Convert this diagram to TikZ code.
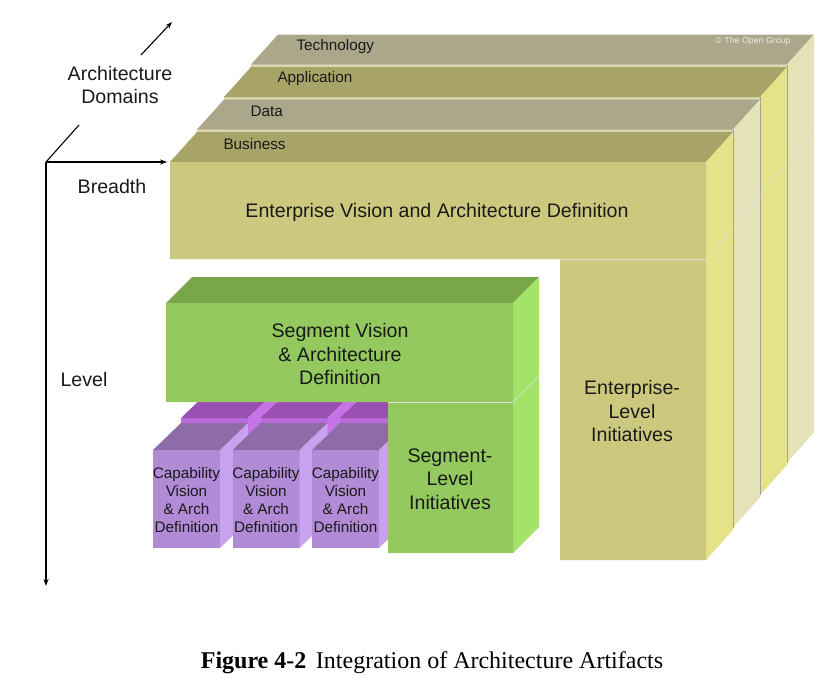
\documentclass[tikz,border=0pt]{standalone}
\usepackage{fontspec}
\setmainfont{Liberation Sans}
\newfontfamily\capfont{Liberation Serif}
\usetikzlibrary{arrows.meta}
\definecolor{olivetop}{HTML}{A8A468}
\definecolor{greytop}{HTML}{ABA78A}
\definecolor{entfront}{HTML}{CCC97E}
\definecolor{yelside}{HTML}{E6E28A}
\definecolor{paleside}{HTML}{E5E2BA}
\definecolor{sliver}{HTML}{D9D7AC}
\definecolor{segfront}{HTML}{93C95E}
\definecolor{segtop}{HTML}{78A648}
\definecolor{segside}{HTML}{A3E36A}
\definecolor{capfront}{HTML}{B28BD6}
\definecolor{captop}{HTML}{8E6CA7}
\definecolor{capside}{HTML}{C9A2EF}
\definecolor{backtop}{HTML}{9A4FB2}
\definecolor{backside}{HTML}{C673E6}
\definecolor{backsliver}{HTML}{BB6ADA}
\definecolor{ink}{HTML}{1A1A1A}
\begin{document}
\begin{tikzpicture}[x=1pt,y=-1pt,
   edge/.style={draw=gray!80,line width=0.7pt},
   seam/.style={draw=black!12,line width=0.5pt},
   axis/.style={line width=1.1pt,-{Stealth[length=7pt,width=5pt]}},
   biglabel/.style={font=\fontsize{19.6}{23.5}\selectfont,align=center,text=ink},
   domlabel/.style={font=\fontsize{15.3}{18}\selectfont,anchor=west,text=ink},
   caplabel/.style={font=\fontsize{15.3}{18.3}\selectfont,align=center,text=ink}]
\useasboundingbox (0,0) rectangle (837,688);

\foreach \i/\top/\side/\lbl/\lx in {3/greytop/paleside/Technology/212,2/olivetop/yelside/Application/220,1/greytop/paleside/Data/220,0/olivetop/yelside/Business/220}{
  \begin{scope}[shift={(27*\i,-32.5*\i)}]
    \fill[sliver] (170,162) -- (706,162) -- (706,560) -- (560,560) -- (560,259) -- (170,259) -- cycle;
    \fill[\top] (170,162) -- (706,162) -- (733,132) -- (197,132) -- cycle;
    \fill[\side] (706,162) -- (733,132) -- (733,530) -- (706,560) -- cycle;
    \draw[seam] (706,259) -- (733,229);
    \ifnum\i>0 \draw[edge] (706,162) -- (706,560); \fi
    \node[domlabel] (\lbl) at (\lx,144) {\lbl};
  \end{scope}
}
\fill[entfront] (170,162) -- (706,162) -- (706,560) -- (560,560) -- (560,259) -- (170,259) -- cycle;
\draw[seam] (560,259) -- (706,259);
\node[font=\fontsize{8.8}{10}\selectfont,text=white!78!greytop] (copyright) at (753,41) {\textcopyright{} The Open Group};
\node[biglabel] (entvision) at (437,212) {Enterprise Vision and Architecture Definition};
\node[biglabel] (entinit) at (632,411) {Enterprise-\\Level\\Initiatives};

\foreach \j in {0,1,2}{
  \begin{scope}[shift={(28+79.5*\j,-32)}]
    \fill[backsliver] (153,450) rectangle (220,548);
    \fill[backtop] (153,450) -- (220,450) -- (248,423) -- (181,423) -- cycle;
    \fill[backside] (220,450) -- (248,423) -- (248,521) -- (220,548) -- cycle;
  \end{scope}
}
\foreach \j in {0,1,2}{
  \begin{scope}[shift={(79.5*\j,0)}]
    \fill[capfront] (153,450) rectangle (220,548);
    \fill[captop] (153,450) -- (220,450) -- (248,423) -- (181,423) -- cycle;
    \fill[capside] (220,450) -- (248,423) -- (248,521) -- (220,548) -- cycle;
  \end{scope}
  \node[caplabel] (capability\j) at (186.5+79.5*\j,500) {Capability\\Vision\\\& Arch\\Definition};
}

\fill[segtop] (166,303) -- (513,303) -- (539,277) -- (192,277) -- cycle;
\fill[segside] (513,303) -- (539,277) -- (539,527) -- (513,553) -- cycle;
\fill[segfront] (166,303) -- (513,303) -- (513,553) -- (388,553) -- (388,402) -- (166,402) -- cycle;
\draw[seam] (513,402) -- (539,376);
\draw[seam] (388,402) -- (513,402);
\node[biglabel] (segvision) at (340,354) {Segment Vision\\\& Architecture\\Definition};
\node[biglabel] (seginit) at (450,479) {Segment-\\Level\\Initiatives};

\coordinate (origin) at (46,162);
\coordinate (breadthend) at (167,162);
\coordinate (levelend) at (46,586);
\coordinate (domlow) at (79,125);
\coordinate (domhigh) at (141,55);
\coordinate (domend) at (172,22);
\draw[axis] (origin) -- (breadthend);
\draw[axis] (origin) -- (levelend);
\draw[line width=1.1pt] (origin) -- (domlow);
\draw[axis] (domhigh) -- (domend);
\node[biglabel] (domains) at (120,85) {Architecture\\Domains};
\node[biglabel] (breadth) at (112,186) {Breadth};
\node[biglabel] (level) at (84,379) {Level};

\node[font=\capfont\fontsize{24}{28}\selectfont] (caption) at (432,663) {\textbf{Figure 4-2}\hspace{0.15em} Integration of Architecture Artifacts};
\end{tikzpicture}
\end{document}
